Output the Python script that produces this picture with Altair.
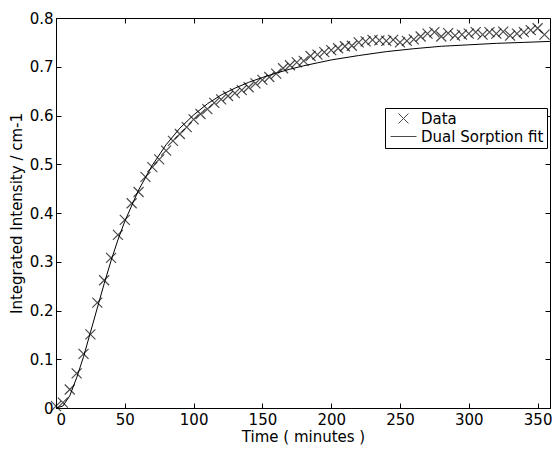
import altair as alt
import pandas as pd

# measured data (time in minutes, integrated intensity)
data_time = [0, 5, 10, 15, 20, 25, 30, 35, 40, 45, 50, 55, 60, 65, 70, 75, 80, 85, 90, 95,
             100, 105, 110, 115, 120, 125, 130, 135, 140, 145, 150, 155, 160, 165, 170, 175,
             180, 185, 190, 195, 200, 205, 210, 215, 220, 225, 230, 235, 240, 245, 250, 255,
             260, 265, 270, 275, 280, 285, 290, 295, 300, 305, 310, 315, 320, 325, 330, 335,
             340, 345, 350, 355]
data_val = [0.004, 0.011, 0.038, 0.071, 0.111, 0.151, 0.216, 0.262, 0.308, 0.355, 0.386, 0.42,
            0.443, 0.474, 0.494, 0.51, 0.528, 0.548, 0.562, 0.576, 0.592, 0.603, 0.613, 0.626,
            0.633, 0.64, 0.646, 0.652, 0.658, 0.666, 0.673, 0.679, 0.686, 0.697, 0.703, 0.709,
            0.712, 0.722, 0.725, 0.73, 0.734, 0.738, 0.742, 0.743, 0.75, 0.752, 0.755, 0.754,
            0.753, 0.755, 0.75, 0.753, 0.756, 0.762, 0.768, 0.771, 0.762, 0.769, 0.764, 0.766,
            0.768, 0.771, 0.766, 0.771, 0.768, 0.772, 0.764, 0.768, 0.771, 0.775, 0.779, 0.766]

# dual sorption fit curve
fit_time = [0, 5, 10, 15, 20, 25, 30, 35, 40, 45, 50, 60, 70, 80, 90, 100, 110, 120, 130, 140,
            150, 160, 170, 180, 190, 200, 220, 240, 260, 280, 300, 320, 340, 359]
fit_val = [0.0, 0.004, 0.025, 0.062, 0.105, 0.155, 0.205, 0.255, 0.302, 0.345, 0.383, 0.447,
           0.498, 0.54, 0.574, 0.601, 0.624, 0.642, 0.656, 0.668, 0.678, 0.687, 0.695, 0.702,
           0.708, 0.714, 0.723, 0.731, 0.737, 0.742, 0.745, 0.748, 0.75, 0.752]

series_names = ["Data", "Dual Sorption fit"]
x_ticks = [0, 50, 100, 150, 200, 250, 300, 350]
y_ticks = [0, 0.1, 0.2, 0.3, 0.4, 0.5, 0.6, 0.7, 0.8]

df_data = pd.DataFrame({"t": data_time, "v": data_val, "series": series_names[0]})
df_fit = pd.DataFrame({"t": fit_time, "v": fit_val, "series": series_names[1]})

W, H = 494, 390
FONT = "DejaVu Sans"

x_enc = alt.X("t:Q", scale=alt.Scale(domain=[0, 359], nice=False, zero=False),
              axis=alt.Axis(values=x_ticks, title="Time ( minutes )", grid=True,
                            gridDash=[5, H - 10], gridColor="black", gridOpacity=1,
                            ticks=False, labelPadding=4, titlePadding=2))
y_enc = alt.Y("v:Q", scale=alt.Scale(domain=[0, 0.8], nice=False),
              axis=alt.Axis(values=y_ticks, title="Integrated Intensity / cm-1", grid=True,
                            gridDash=[5, W - 10], gridColor="black", gridOpacity=1,
                            ticks=False, labelPadding=3, titlePadding=5,
                            labelExpr="datum.value == 0 ? '0' : format(datum.value, '.1f')"))

xpath = "M-1,-1L1,1M-1,1L1,-1"
linepath = "M-2.6,0L2.6,0"

fit = alt.Chart(df_fit).mark_line(color="black", strokeWidth=1).encode(x=x_enc, y=y_enc)

pts = alt.Chart(df_data).mark_point(filled=False, color="black", size=100, strokeWidth=1.2).encode(
    x="t:Q", y="v:Q",
    shape=alt.Shape("series:N", scale=alt.Scale(domain=series_names, range=[xpath, linepath]),
                    legend=alt.Legend(title=None, orient="none", legendX=329, legendY=90,
                                      strokeColor="black", fillColor="white", padding=3,
                                      symbolSize=100, symbolStrokeColor="black",
                                      symbolStrokeWidth=1, symbolFillColor="transparent",
                                      symbolOffset=8, labelOffset=10, labelFontSize=15,
                                      labelFont=FONT, labelColor="black", rowPadding=2,
                                      cornerRadius=0)),
)

chart = alt.layer(fit, pts).properties(
    width=W, height=H,
    autosize=alt.AutoSizeParams(type="none"),
    padding={"left": 48, "top": 10, "right": 2, "bottom": 37},
).configure_view(stroke="black", strokeWidth=1).configure_axis(
    domainColor="black", labelColor="black", titleColor="black",
    labelFont=FONT, titleFont=FONT, labelFontSize=15, titleFontSize=15,
    titleFontWeight="normal",
)

chart.save("out.html", embed_options={"renderer": "svg", "actions": False})
